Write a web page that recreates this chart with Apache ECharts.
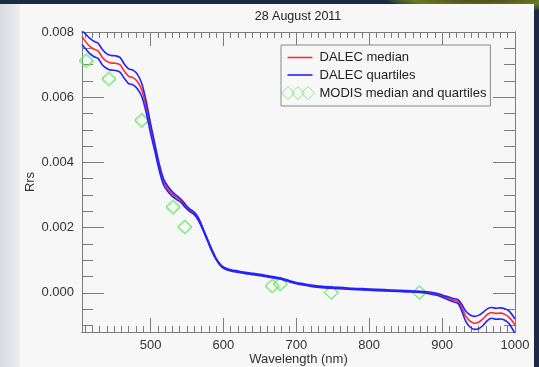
<!DOCTYPE html>
<html>
<head>
<meta charset="utf-8">
<script src="https://cdn.jsdelivr.net/npm/echarts@6/dist/echarts.min.js"></script>
<style>
  html, body { margin: 0; padding: 0; }
  body { width: 539px; height: 367px; position: relative; overflow: hidden; background: #1b2b46; }
  .strip { position: absolute; left: 0; top: 4px; width: 20px; height: 363px;
    background: linear-gradient(to right, #d6dade, #eceef0); }
  .blob { position: absolute; left: 380px; top: -30px; width: 200px; height: 44px; border-radius: 50%;
    background: radial-gradient(ellipse at center, #3a2a10 0%, #6a7a20 55%, #1b2b46 75%); }
  .panel { position: absolute; left: 20px; top: 4px; width: 514px; height: 363px; background: #f7f7f7; }
  #chart { position: absolute; left: 0; top: 0; width: 539px; height: 367px; }
</style>
</head>
<body>
<div class="blob"></div>
<div class="strip"></div>
<div class="panel"></div>
<div id="chart"></div>
<script>
// DALEC spectra (wavelength in nm)
const wavelengths = [406, 410, 416, 422, 428, 434, 440, 446, 452, 458,
  464, 470, 476, 482, 488, 494, 500, 506, 512, 518,
  524, 530, 536, 542, 548, 554, 560, 566, 572, 578,
  584, 590, 596, 602, 610, 620, 630, 640, 650, 660,
  670, 680, 690, 700, 710, 720, 735, 750, 770, 790,
  810, 830, 850, 870, 885, 895, 905, 915, 922, 927,
  932, 938, 944, 950, 956, 962, 968, 974, 980, 986,
  992, 1000];

const dalecMedian = [0.00786, 0.00773, 0.00757, 0.00748, 0.00742, 0.00722, 0.00710, 0.00705, 0.00704, 0.00700,
  0.00680, 0.00664, 0.00660, 0.00648, 0.00622, 0.00570, 0.00505, 0.00445, 0.00385, 0.00340,
  0.00318, 0.00303, 0.00292, 0.00282, 0.00266, 0.00253, 0.00244, 0.00225, 0.00195, 0.00163,
  0.00131, 0.00104, 0.00085, 0.00075, 0.00069, 0.00065, 0.00061, 0.00058, 0.00055, 0.00051,
  0.00047, 0.00043, 0.00036, 0.00030, 0.00026, 0.00022, 0.00018, 0.00016, 0.00013, 0.00011,
  0.00009, 0.00007, 0.00005, 0.00003, -0.00001, -0.00006, -0.00014, -0.00022, -0.00027, -0.00045,
  -0.00070, -0.00086, -0.00093, -0.00090, -0.00080, -0.00066, -0.00060, -0.00063, -0.00062, -0.00066,
  -0.00075, -0.00098];

const dalecUpper = [0.00803, 0.00796, 0.00782, 0.00772, 0.00766, 0.00746, 0.00733, 0.00728, 0.00727, 0.00722,
  0.00702, 0.00687, 0.00683, 0.00670, 0.00642, 0.00588, 0.00520, 0.00457, 0.00395, 0.00349,
  0.00326, 0.00310, 0.00298, 0.00287, 0.00271, 0.00257, 0.00248, 0.00229, 0.00198, 0.00166,
  0.00134, 0.00106, 0.00087, 0.00077, 0.00071, 0.00067, 0.00063, 0.00060, 0.00057, 0.00053,
  0.00049, 0.00045, 0.00038, 0.00032, 0.00028, 0.00024, 0.00020, 0.00018, 0.00015, 0.00013,
  0.00011, 0.00009, 0.00007, 0.00005, 0.00002, -0.00003, -0.00010, -0.00017, -0.00021, -0.00035,
  -0.00055, -0.00067, -0.00072, -0.00069, -0.00060, -0.00049, -0.00045, -0.00047, -0.00046, -0.00049,
  -0.00056, -0.00080];

const dalecLower = [0.00762, 0.00751, 0.00735, 0.00725, 0.00719, 0.00699, 0.00688, 0.00683, 0.00682, 0.00677,
  0.00658, 0.00642, 0.00638, 0.00626, 0.00602, 0.00553, 0.00490, 0.00433, 0.00375, 0.00331,
  0.00310, 0.00296, 0.00286, 0.00277, 0.00261, 0.00249, 0.00240, 0.00221, 0.00192, 0.00160,
  0.00128, 0.00102, 0.00083, 0.00073, 0.00067, 0.00063, 0.00059, 0.00056, 0.00053, 0.00049,
  0.00045, 0.00041, 0.00034, 0.00028, 0.00024, 0.00020, 0.00016, 0.00014, 0.00011, 0.00009,
  0.00007, 0.00005, 0.00003, 0.00001, -0.00004, -0.00009, -0.00018, -0.00027, -0.00033, -0.00056,
  -0.00085, -0.00104, -0.00112, -0.00110, -0.00100, -0.00085, -0.00078, -0.00081, -0.00080, -0.00084,
  -0.00095, -0.00125];

// MODIS bands
const modisBands = [412, 443, 488, 531, 547, 667, 678, 748, 869];
const modisMedian = [0.00712, 0.00656, 0.00529, 0.00263, 0.00202, 0.00021, 0.00027, 0.00001, 0.00001];
const modisLower = [0.00709, 0.00653, 0.00526, 0.00260, 0.00200, 0.00019, 0.00025, 0.00000, 0.00000];
const modisUpper = [0.00715, 0.00659, 0.00532, 0.00266, 0.00204, 0.00023, 0.00029, 0.00002, 0.00002];

// axis ticks
const xMajor = [500, 600, 700, 800, 900, 1000];
const yMajor = [0, 0.002, 0.004, 0.006, 0.008];
const xMinor = [];
for (let w = 410; w < 1000; w += 10) if (w % 100) xMinor.push(w);
const yMinor = [-0.001, -0.0005, 0.0005, 0.001, 0.0015, 0.0025, 0.003, 0.0035,
  0.0045, 0.005, 0.0055, 0.0065, 0.007, 0.0075];

const FONT = '"Liberation Sans", Arial, sans-serif';
const AXIS = '#7c7c7c';
const GREEN = '#6ae86a';

const pairs = (xs, ys) => xs.map((x, i) => [x, ys[i]]);

function xAx(pos, ticks, len, withLabels) {
  return {
    type: 'value', position: pos, min: 406, max: 1000,
    axisLine: { show: true, onZero: false, lineStyle: { color: AXIS, width: 1 } },
    axisTick: { show: true, inside: true, length: len, customValues: ticks, lineStyle: { color: AXIS } },
    axisLabel: withLabels
      ? { show: true, customValues: ticks, margin: 7, fontSize: 13, color: '#333', fontFamily: FONT,
          formatter: v => String(v) }
      : { show: false },
    splitLine: { show: false },
    name: withLabels ? 'Wavelength (nm)' : '',
    nameLocation: 'middle', nameGap: 21, nameMoveOverlap: false,
    nameTextStyle: { fontSize: 13, color: '#333', fontFamily: FONT }
  };
}

function yAx(pos, ticks, len, withLabels) {
  return {
    type: 'value', position: pos, min: -0.0012, max: 0.008,
    axisLine: { show: true, onZero: false, lineStyle: { color: AXIS, width: 1 } },
    axisTick: { show: true, inside: true, length: len, customValues: ticks, lineStyle: { color: AXIS } },
    axisLabel: withLabels
      ? { show: true, customValues: ticks, margin: 8, fontSize: 13, color: '#333', fontFamily: FONT,
          formatter: v => v.toFixed(3) }
      : { show: false },
    splitLine: { show: false },
    name: withLabels ? 'Rrs' : '',
    nameLocation: 'middle', nameGap: 45, nameMoveOverlap: false,
    nameTextStyle: { fontSize: 13, color: '#333', fontFamily: FONT }
  };
}

const linePath = 'path://M0,0 M6,5.7 L31,5.7 L31,7.3 L6,7.3 Z M33,13';
const diamondPath = 'path://M0,6.5 L6.5,0 L13,6.5 L6.5,13 Z M10,6.5 L16.5,0 L23,6.5 L16.5,13 Z M20,6.5 L26.5,0 L33,6.5 L26.5,13 Z';

const chart = echarts.init(document.getElementById('chart'), null, { renderer: 'canvas' });

const lineSeries = (name, ys, color) => ({
  name, type: 'line', data: pairs(wavelengths, ys),
  xAxisIndex: 0, yAxisIndex: 0,
  symbol: 'none', smooth: 0.3,
  lineStyle: { color, width: 1.6 }, itemStyle: { color }
});

const modisSeries = ys => ({
  name: 'MODIS median and quartiles', type: 'scatter', data: pairs(modisBands, ys),
  xAxisIndex: 0, yAxisIndex: 0,
  symbol: 'diamond', symbolSize: [14, 13],
  itemStyle: { color: 'rgba(0,0,0,0)', borderColor: GREEN, borderWidth: 0.9 }
});

chart.setOption({
  animation: false,
  backgroundColor: 'transparent',
  title: {
    text: '28 August 2011', left: 298, top: 10, textAlign: 'center', padding: 0,
    textStyle: { fontSize: 12.5, fontWeight: 'normal', color: '#222', fontFamily: FONT }
  },
  grid: { left: 82, right: 24, top: 32, bottom: 35, containLabel: false, outerBoundsMode: 'none' },
  legend: {
    orient: 'vertical', left: 281, top: 45,
    padding: [6, 4, 6, 0], itemWidth: 33, itemHeight: 13, itemGap: 4.5,
    borderColor: '#888', borderWidth: 1, backgroundColor: '#f7f7f7',
    textStyle: { fontSize: 13, color: '#222', fontFamily: FONT },
    data: [
      { name: 'DALEC median', icon: linePath, itemStyle: { borderWidth: 0 } },
      { name: 'DALEC quartiles', icon: linePath, itemStyle: { borderWidth: 0 } },
      { name: 'MODIS median and quartiles', icon: diamondPath,
        itemStyle: { color: 'rgba(0,0,0,0)', borderColor: GREEN, borderWidth: 1 } }
    ]
  },
  xAxis: [
    xAx('bottom', xMajor, 14, true),
    xAx('bottom', xMinor, 6, false),
    xAx('top', xMajor, 14, false),
    xAx('top', xMinor, 6, false)
  ],
  yAxis: [
    yAx('left', yMajor, 22, true),
    yAx('left', yMinor, 11, false),
    yAx('right', yMajor, 22, false),
    yAx('right', yMinor, 11, false)
  ],
  series: [
    lineSeries('DALEC median', dalecMedian, '#ff2a2a'),
    lineSeries('DALEC quartiles', dalecUpper, '#2222ff'),
    lineSeries('DALEC quartiles', dalecLower, '#2222ff'),
    modisSeries(modisLower),
    modisSeries(modisMedian),
    modisSeries(modisUpper)
  ]
});
</script>
</body>
</html>
